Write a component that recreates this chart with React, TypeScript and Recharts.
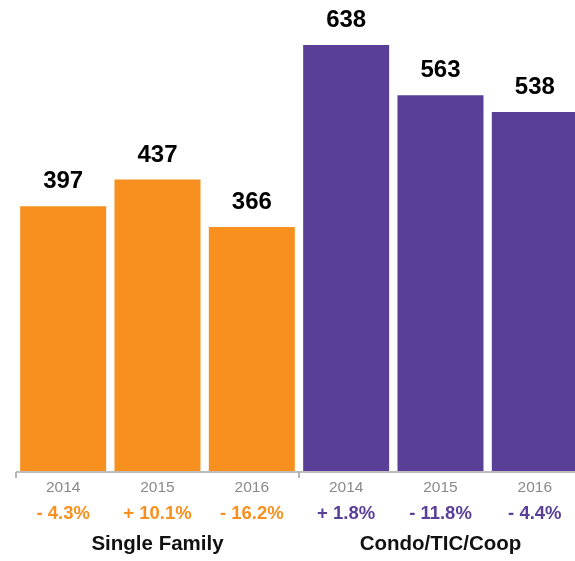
import React from "react";
import {Bar, BarChart, Cell, LabelList, XAxis, YAxis} from "recharts";

const years = ['2014', '2015', '2016', '2014', '2015', '2016'];
const groups = ['Single Family', 'Single Family', 'Single Family', 'Condo/TIC/Coop', 'Condo/TIC/Coop', 'Condo/TIC/Coop'];
const sales = [397, 437, 366, 638, 563, 538];
const changes = ['- 4.3%', '+ 10.1%', '- 16.2%', '+ 1.8%', '- 11.8%', '- 4.4%'];

const GROUP_COLORS: Record<string, string> = {
    'Single Family': '#F7901E',
    'Condo/TIC/Coop': '#5A3F98',
};
const FONT = '"Liberation Sans", Arial, Helvetica, sans-serif';

const data = sales.map((value, i) => ({id: i, year: years[i], group: groups[i], value, change: changes[i]}));

const YearTick = (props: any) => {
    const {x, y, payload} = props;
    const i = payload.index ?? payload.value;
    const half = payload.offset ?? 47;
    const d = data[i];
    const first = i === 0 || groups[i] !== groups[i - 1];
    return (
        <g>
            {first && <line x1={x - half} x2={x - half} y1={y} y2={y + 6} stroke="#b5b5b5" strokeWidth={2}/>}
            <text x={x} y={y + 20} textAnchor="middle" fontFamily={FONT} fontSize={15.5} fill="#8a8a8a">
                {d.year}
            </text>
            <text x={x} y={y + 47} textAnchor="middle" fontFamily={FONT} fontSize={18.5} fontWeight="bold"
                  fill={GROUP_COLORS[d.group]}>
                {d.change}
            </text>
        </g>
    );
};

const GroupTick = (props: any) => {
    const {x, y, payload} = props;
    const i = payload.index ?? payload.value;
    // label sits under the middle bar of each group
    if (groups[i] === groups[i - 1] && groups[i] === groups[i + 1]) {
        return (
            <text x={x} y={y + 23} textAnchor="middle" fontFamily={FONT} fontSize={20.5} fontWeight="bold" fill="#111">
                {groups[i]}
            </text>
        );
    }
    return <g/>;
};

export default function App() {
    return (
        <div style={{position: 'fixed', left: 0, top: 0, width: 575, height: 561, overflow: 'hidden'}}>
            <BarChart width={582} height={561} data={data} barCategoryGap="4.4%"
                      margin={{top: 45, right: 0, bottom: 0, left: 16}}>
                <YAxis hide domain={[0, 638]}/>
                <XAxis dataKey="id" interval={0} height={55} tickSize={0} tickMargin={0} tickLine={false}
                       axisLine={{stroke: '#bdbdbd', strokeWidth: 2}} tick={<YearTick/>}/>
                <XAxis xAxisId="group" dataKey="id" interval={0} height={34} tickSize={0} tickMargin={0}
                       tickLine={false} axisLine={false} tick={<GroupTick/>}/>
                <Bar dataKey="value" isAnimationActive={false}>
                    {data.map((entry, index) => (
                        <Cell key={`cell-${index}`} fill={GROUP_COLORS[entry.group]}/>
                    ))}
                    <LabelList dataKey="value" position="top" offset={18} fill="#000"
                               style={{fontFamily: FONT, fontSize: 24, fontWeight: 'bold'}}/>
                </Bar>
            </BarChart>
        </div>
    );
}
